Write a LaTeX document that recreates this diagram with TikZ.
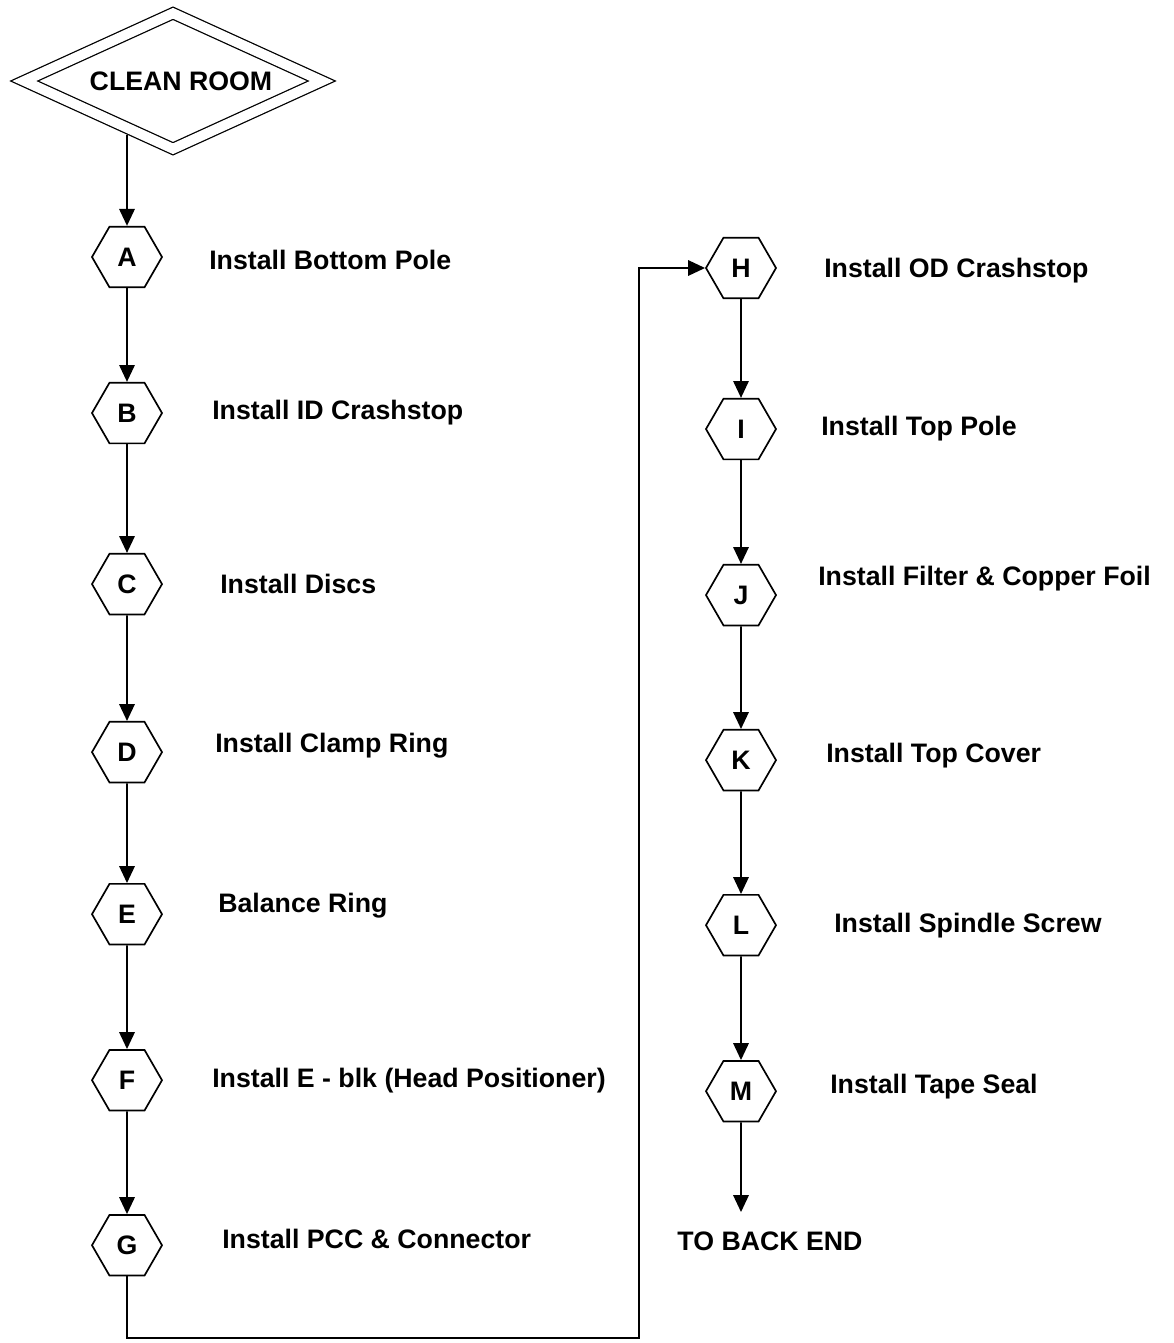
\documentclass[tikz,border=0pt]{standalone}
\usepackage{fontspec}
\setmainfont{Liberation Sans}
\usepackage{tikz}
\usetikzlibrary{shapes,arrows.meta,positioning}

\begin{document}
\begin{tikzpicture}[
    x=0.025cm, y=-0.025cm,
    font=\fontsize{19pt}{22pt}\selectfont\bfseries,
    startbox/.style={diamond, draw, double, double distance=7pt, line width=0.9pt, minimum width=7.45cm, minimum height=3.4cm, aspect=2.2, inner sep=0pt},
    stepbox/.style={regular polygon, regular polygon sides=6, draw, line width=1.2pt, minimum size=1.75cm, inner sep=0pt, on grid},
    steptext/.style={anchor=west, inner sep=0pt},
    arrow/.style={-{Triangle[length=12pt,width=11pt]}, line width=1.2pt}
]
\useasboundingbox (0,0) rectangle (1174,1343);

\node[startbox] (clean) at (173,81) {\hspace{0.4cm}CLEAN ROOM};

% left column
\node[stepbox] (A) at (127,257) {A};
\node[stepbox, below=3.9cm of A] (B) {B};
\node[stepbox, below=4.275cm of B] (C) {C};
\node[stepbox, below=4.2cm of C] (D) {D};
\node[stepbox, below=4.05cm of D] (E) {E};
\node[stepbox, below=4.15cm of E] (F) {F};
\node[stepbox, below=4.125cm of F] (G) {G};

\node[steptext, right=1.15cm of A, yshift=-0.07cm] (tA) {Install Bottom Pole};
\node[steptext, right=1.225cm of B] (tB) {Install ID Crashstop};
\node[steptext, right=1.425cm of C] (tC) {Install Discs};
\node[steptext, right=1.3cm of D, yshift=0.15cm] (tD) {Install Clamp Ring};
\node[steptext, right=1.375cm of E, yshift=0.22cm] (tE) {Balance Ring};
\node[steptext, right=1.225cm of F] (tF) {Install E - blk (Head Positioner)};
\node[steptext, right=1.475cm of G, yshift=0.17cm] (tG) {Install PCC \& Connector};

% right column
\node[stepbox] (H) at (741,268) {H};
\node[stepbox, below=4.025cm of H] (I) {I};
\node[stepbox, below=4.15cm of I] (J) {J};
\node[stepbox, below=4.125cm of J] (K) {K};
\node[stepbox, below=4.125cm of K] (L) {L};
\node[stepbox, below=4.15cm of L] (M) {M};

\node[steptext, right=1.175cm of H, yshift=-0.07cm] (tH) {Install OD Crashstop};
\node[steptext, right=1.1cm of I] (tI) {Install Top Pole};
\node[steptext, right=1.025cm of J, yshift=0.42cm] (tJ) {Install Filter \& Copper Foil};
\node[steptext, right=1.225cm of K, yshift=0.12cm] (tK) {Install Top Cover};
\node[steptext, right=1.425cm of L] (tL) {Install Spindle Screw};
\node[steptext, right=1.325cm of M, yshift=0.12cm] (tM) {Install Tape Seal};

\node (back) at (770,1241) {TO BACK END};
\coordinate (endtip) at (741,1212);
\coordinate (loop) at (639,1338);

\draw[arrow, shorten <=4.5pt] (A |- clean.226) -- (A);
\foreach \a/\b in {A/B,B/C,C/D,D/E,E/F,F/G,H/I,I/J,J/K,K/L,L/M}
    \draw[arrow] (\a) -- (\b);
\draw[arrow] (G) |- (loop) |- (H);
\draw[arrow] (M) -- (endtip);

\end{tikzpicture}
\end{document}
